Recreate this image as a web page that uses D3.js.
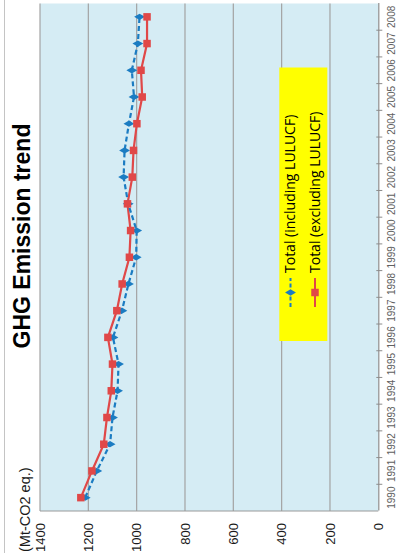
<!DOCTYPE html>
<html>
<head>
<meta charset="utf-8">
<script src="https://cdn.jsdelivr.net/npm/d3@7"></script>
<style>
  html, body { margin: 0; padding: 0; background: #fff; }
  svg { display: block; }
</style>
</head>
<body>
<svg id="chart" width="398" height="553"></svg>
<script>
// Emission series, Mt-CO2 equivalent
const years = [1990, 1991, 1992, 1993, 1994, 1995, 1996, 1997, 1998, 1999,
               2000, 2001, 2002, 2003, 2004, 2005, 2006, 2007, 2008];
const includingLULUCF = [1213, 1165, 1110, 1100, 1079, 1075, 1098, 1061, 1034, 1002,
                         1000, 1035, 1054, 1050, 1032, 1011, 1020, 995, 988];
const excludingLULUCF = [1231, 1185, 1136, 1123, 1105, 1100, 1119, 1082, 1060, 1030,
                         1025, 1038, 1018, 1013, 999, 977, 982, 957, 957];
const valueTicks = [0, 200, 400, 600, 800, 1000, 1200, 1400];
const seriesNames = ["Total (including LULUCF)", "Total (excluding LULUCF)"];

const svg = d3.select("#chart");

// Outer frame edge
svg.append("line")
  .attr("x1", 4.5).attr("x2", 4.5).attr("y1", 0).attr("y2", 553)
  .attr("stroke", "#c4c4c4").attr("stroke-width", 1);

// The chart is laid out as a normal line chart inside a group turned a quarter-turn
const plotW = 507.5;          // along the year axis
const plotTop = 40, plotBottom = 378.3;
const g = svg.append("g").attr("transform", "translate(0,511) rotate(-90)");

const x = d3.scaleBand().domain(years).range([0, plotW]);
const y = d3.scaleLinear().domain([0, 1400]).range([plotBottom, plotTop]);
const cx = d => x(d) + x.bandwidth() / 2;

// Plot background
g.append("rect")
  .attr("x", 0).attr("y", plotTop)
  .attr("width", plotW).attr("height", plotBottom - plotTop)
  .attr("fill", "#d5ecf4");

// Gridlines
g.append("g").selectAll("line")
  .data(valueTicks.filter(v => v > 0))
  .join("line")
  .attr("x1", 0).attr("x2", plotW)
  .attr("y1", d => y(d)).attr("y2", d => y(d))
  .attr("stroke", "#a3a3a3").attr("stroke-width", 1.2);

// Value axis (left side of plot)
g.append("line")
  .attr("x1", 0).attr("x2", 0).attr("y1", plotTop).attr("y2", plotBottom)
  .attr("stroke", "#9a9a9a").attr("stroke-width", 1.2);
g.append("g").selectAll("text")
  .data(valueTicks)
  .join("text")
  .attr("x", -12)
  .attr("y", d => y(d))
  .attr("dy", "0.35em")
  .attr("text-anchor", "end")
  .attr("font-family", "Liberation Sans, Arial, sans-serif")
  .attr("font-size", 13)
  .attr("fill", "#1a1a1a")
  .text(d => d);

// Year axis (bottom of plot)
const xAxis = d3.axisBottom(x).tickSize(0).tickPadding(10);
const xg = g.append("g").attr("transform", `translate(0,${plotBottom})`).call(xAxis);
xg.select(".domain").attr("stroke", "#8c8c8c").attr("stroke-width", 1.2);
xg.selectAll("text")
  .attr("font-family", "Liberation Sans, Arial, sans-serif")
  .attr("font-size", 10)
  .attr("fill", "#606060");
// Tick marks sit on the band boundaries
g.append("g").selectAll("line")
  .data(years.slice(1))
  .join("line")
  .attr("x1", d => x(d)).attr("x2", d => x(d))
  .attr("y1", plotBottom - 2).attr("y2", plotBottom + 4)
  .attr("stroke", "#8c8c8c").attr("stroke-width", 1);

// Series lines
const lineFor = vals => d3.line()
  .x((d, i) => cx(years[i]))
  .y(d => y(d))(vals);

g.append("path")
  .attr("d", lineFor(excludingLULUCF))
  .attr("fill", "none").attr("stroke", "#e04848").attr("stroke-width", 2.2);
g.append("path")
  .attr("d", lineFor(includingLULUCF))
  .attr("fill", "none").attr("stroke", "#1b7cc2").attr("stroke-width", 2.2)
  .attr("stroke-dasharray", "5,3");

// Markers
const diamond = d3.symbol().type(d3.symbolDiamond).size(34);
g.append("g").selectAll("path")
  .data(includingLULUCF)
  .join("path")
  .attr("d", diamond)
  .attr("transform", (d, i) => `translate(${cx(years[i])},${y(d)})`)
  .attr("fill", "#1b7cc2");
g.append("g").selectAll("rect")
  .data(excludingLULUCF)
  .join("rect")
  .attr("x", (d, i) => cx(years[i]) - 3.75)
  .attr("y", d => y(d) - 3.75)
  .attr("width", 7.5).attr("height", 7.5)
  .attr("fill", "#e04848");

// Title and unit
g.append("text")
  .attr("x", 275).attr("y", 30)
  .attr("text-anchor", "middle")
  .attr("font-family", "Liberation Sans, Arial, sans-serif")
  .attr("font-weight", "bold")
  .attr("font-size", 23)
  .attr("fill", "#000")
  .text("GHG Emission trend");
g.append("text")
  .attr("x", -41).attr("y", 30)
  .attr("text-anchor", "start")
  .attr("font-family", "Liberation Sans, Arial, sans-serif")
  .attr("font-size", 14.5)
  .attr("fill", "#1a1a1a")
  .text("(Mt-CO2 eq.)");

// Legend
const legend = g.append("g");
legend.append("rect")
  .attr("x", 170).attr("y", 279.3)
  .attr("width", 273.5).attr("height", 48)
  .attr("fill", "#ffff00");
const legendRows = [
  { name: seriesNames[0], color: "#1b7cc2", dash: "4,2.5", yc: 290.5, shape: "diamond" },
  { name: seriesNames[1], color: "#e04848", dash: null, yc: 315, shape: "square" }
];
legendRows.forEach(r => {
  legend.append("line")
    .attr("x1", 204).attr("x2", 233).attr("y1", r.yc).attr("y2", r.yc)
    .attr("stroke", r.color).attr("stroke-width", 2)
    .attr("stroke-dasharray", r.dash);
  if (r.shape === "diamond") {
    legend.append("path").attr("d", diamond)
      .attr("transform", `translate(218.5,${r.yc})`).attr("fill", r.color);
  } else {
    legend.append("rect")
      .attr("x", 214.75).attr("y", r.yc - 3.75).attr("width", 7.5).attr("height", 7.5)
      .attr("fill", r.color);
  }
  legend.append("text")
    .attr("x", 238).attr("y", r.yc).attr("dy", "0.35em")
    .attr("font-family", "Open Sans, Liberation Sans, sans-serif")
    .attr("font-size", 14)
    .attr("fill", "#000")
    .text(r.name);
});
</script>
</body>
</html>
